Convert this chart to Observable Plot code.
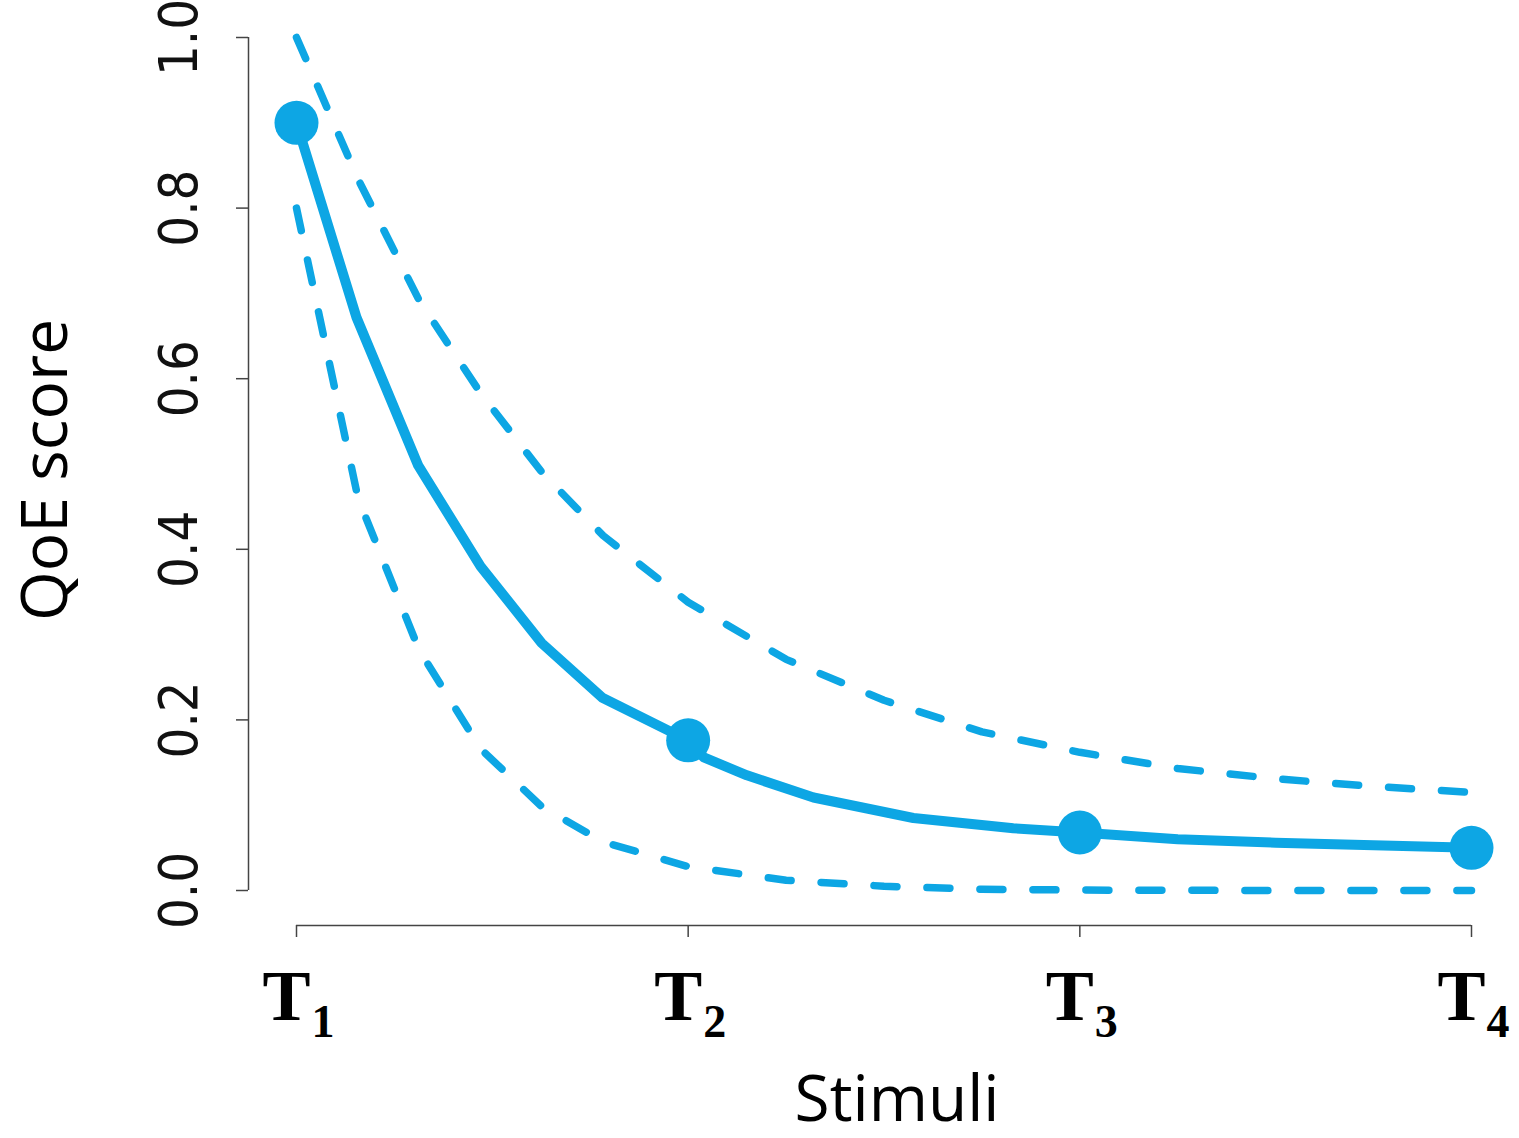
<!DOCTYPE html>
<html>
<head>
<meta charset="utf-8">
<script src="https://cdn.jsdelivr.net/npm/d3@7"></script>
<script src="https://cdn.jsdelivr.net/npm/@observablehq/plot@0.6"></script>
<style>
  html, body { margin: 0; padding: 0; background: #fff; }
  #chart svg { display: block; }
</style>
</head>
<body>
<div id="chart"></div>
<script>
// ---- data ----
const stimulusPos = [1, 2, 3, 4];
const stimulusLetter = ["T", "T", "T", "T"];
const stimulusSub = ["1", "2", "3", "4"];
const markerScores = [0.900, 0.176, 0.068, 0.050];

const meanX = [1.0, 1.153, 1.311, 1.470, 1.626, 1.781, 2.0, 2.04, 2.15, 2.32, 2.575, 2.83, 3.0, 3.25, 3.5, 3.75, 4.0];
const meanY = [0.900, 0.672, 0.498, 0.380, 0.290, 0.226, 0.176, 0.156, 0.135, 0.109, 0.085, 0.073, 0.068, 0.060, 0.056, 0.053, 0.050];

const upperX = [1.0, 1.157, 1.313, 1.47, 1.627, 1.783, 2.0, 2.25, 2.5, 2.75, 3.0, 3.25, 3.5, 3.75, 4.0];
const upperY = [1.0, 0.834, 0.692, 0.583, 0.490, 0.416, 0.338, 0.271, 0.223, 0.186, 0.162, 0.143, 0.131, 0.122, 0.115];

const lowerX = [1.0, 1.157, 1.313, 1.47, 1.627, 1.783, 2.0, 2.25, 2.5, 2.75, 3.0, 3.5, 4.0];
const lowerY = [0.80, 0.46, 0.282, 0.166, 0.098, 0.057, 0.028, 0.012, 0.005, 0.0015, 0.0005, 0, 0];

const yTicks = [0, 0.2, 0.4, 0.6, 0.8, 1.0];
const yTickLabels = ["0.0", "0.2", "0.4", "0.6", "0.8", "1.0"];
const yTitle = "QoE score";
const xTitle = "Stimuli";

// ---- build ----
const color = "#0DA6E4";
const axisColor = "#444";
const sansNarrow = "'Liberation Sans Narrow', 'DejaVu Sans Condensed', 'Roboto Condensed', sans-serif";
const sans = "'Open Sans', 'Noto Sans', sans-serif";
const serif = "'Liberation Serif', 'DejaVu Serif', serif";

const mean = meanX.map((x, i) => ({x, y: meanY[i]}));
const upper = upperX.map((x, i) => ({x, y: upperY[i]}));
const lower = lowerX.map((x, i) => ({x, y: lowerY[i]}));
const markers = stimulusPos.map((x, i) => ({x, y: markerScores[i]}));

const plot = Plot.plot({
  width: 1519,
  height: 1138,
  marginLeft: 296,
  marginRight: 48,
  marginTop: 37,
  marginBottom: 248,
  x: {domain: [stimulusPos[0], stimulusPos[stimulusPos.length - 1]], label: null},
  y: {domain: [yTicks[0], yTicks[yTicks.length - 1]], label: null},
  style: {background: "#fff"},
  marks: [
    // axes (offset like R's base graphics)
    Plot.ruleX([stimulusPos[0]], {y1: yTicks[0], y2: yTicks[yTicks.length - 1], dx: -48, stroke: axisColor, strokeWidth: 1.5}),
    Plot.axisY({ticks: yTicks, tickSize: 12, tickFormat: () => "", label: null, dx: -48, stroke: axisColor, strokeWidth: 1.5}),
    Plot.ruleY([yTicks[0]], {x1: stimulusPos[0], x2: stimulusPos[stimulusPos.length - 1], dy: 35, stroke: axisColor, strokeWidth: 1.5}),
    Plot.axisX({ticks: stimulusPos, tickSize: 12, tickFormat: () => "", label: null, dy: 35, stroke: axisColor, strokeWidth: 1.5}),
    // y tick labels
    Plot.text(yTicks, {y: d => d, text: (d, i) => yTickLabels[i], frameAnchor: "left", dx: -100, rotate: -90,
      textAnchor: "middle", lineAnchor: "bottom", fontSize: 54, fontFamily: sansNarrow, fill: "#111"}),
    // x tick labels T with subscripts
    Plot.text(stimulusPos, {x: d => d, text: (d, i) => stimulusLetter[i], frameAnchor: "bottom", dy: 129, dx: -34,
      textAnchor: "start", lineAnchor: "bottom", fontSize: 72, fontWeight: "bold", fontFamily: serif, fill: "#000"}),
    Plot.text(stimulusPos, {x: d => d, text: (d, i) => stimulusSub[i], frameAnchor: "bottom", dy: 146, dx: 15,
      textAnchor: "start", lineAnchor: "bottom", fontSize: 46, fontWeight: "bold", fontFamily: serif, fill: "#000"}),
    // axis titles
    Plot.text([yTitle], {text: d => d, frameAnchor: "left", dx: -230, dy: 6, rotate: -90,
      textAnchor: "middle", lineAnchor: "bottom", fontSize: 64, fontFamily: sans, fill: "#000"}),
    Plot.text([xTitle], {text: d => d, frameAnchor: "bottom", dx: 13, dy: 230,
      textAnchor: "middle", lineAnchor: "bottom", fontSize: 64, fontFamily: sans, fill: "#000"}),
    // data
    Plot.line(upper, {x: "x", y: "y", stroke: color, strokeWidth: 7.5, strokeDasharray: "23,30", strokeLinecap: "round"}),
    Plot.line(lower, {x: "x", y: "y", stroke: color, strokeWidth: 7.5, strokeDasharray: "23,30", strokeLinecap: "round"}),
    Plot.line(mean, {x: "x", y: "y", stroke: color, strokeWidth: 10, strokeLinejoin: "round"}),
    Plot.dot(markers, {x: "x", y: "y", r: 22, fill: color, stroke: "none"})
  ]
});
document.getElementById("chart").appendChild(plot);
</script>
</body>
</html>
